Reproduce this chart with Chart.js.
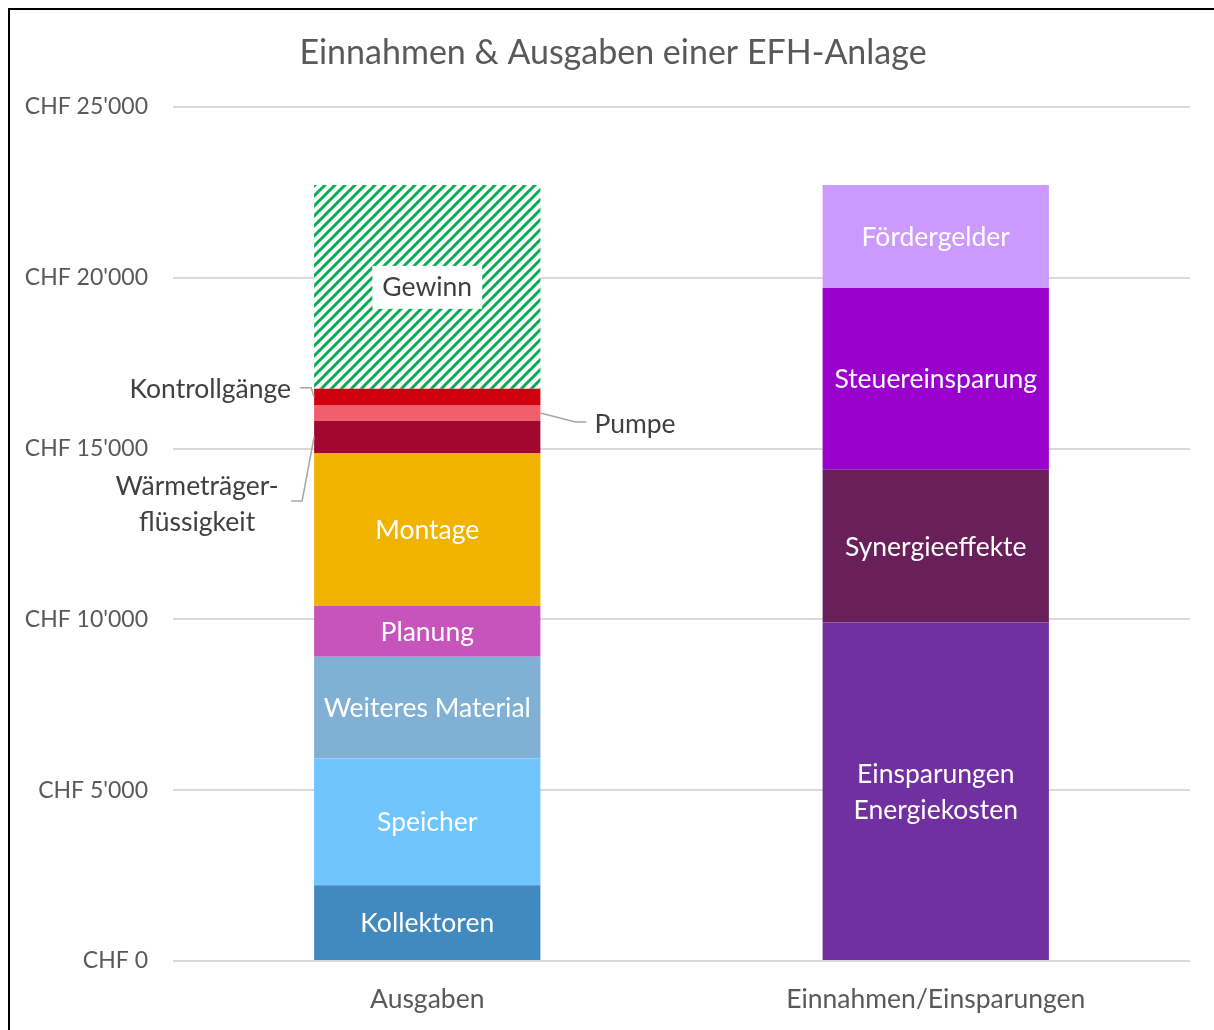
<!DOCTYPE html>
<html>
<head>
<meta charset="utf-8">
<script src="https://cdn.jsdelivr.net/npm/chart.js@4.4.1/dist/chart.umd.min.js"></script>
<style>
  html, body { margin: 0; padding: 0; background: #fff; }
  #wrap { width: 1214px; height: 1030px; }
</style>
</head>
<body>
<div id="wrap"><canvas id="chart"></canvas></div>
<script>
const categories = ['Ausgaben', 'Einnahmen/Einsparungen']

// Ausgaben, von unten nach oben
const ausgabenLabels = ['Kollektoren', 'Speicher', 'Weiteres Material', 'Planung', 'Montage',
  'Wärmeträgerflüssigkeit', 'Pumpe', 'Kontrollgänge', 'Gewinn']
const ausgabenValues = [2220, 3710, 2980, 1490, 4470, 940, 470, 470, 5970]
const ausgabenColors = ['#4189bf', '#70c5fe', '#80b1d5', '#c654bb', '#f0b400',
  '#a2082f', '#ef5f6c', '#d1000f', 'hatch']

// Einnahmen / Einsparungen, von unten nach oben
const einnahmenLabels = ['Einsparungen Energiekosten', 'Synergieeffekte', 'Steuereinsparung', 'Fördergelder']
const einnahmenValues = [9910, 4470, 5320, 3020]
const einnahmenColors = ['#7030a0', '#681f5a', '#9a00cc', '#cc99ff']

const yTicks = [0, 5000, 10000, 15000, 20000, 25000]

const FONT = 'Lato, "Open Sans", sans-serif'

function hatchPattern() {
  const c = document.createElement('canvas')
  c.width = 10
  c.height = 10
  const g = c.getContext('2d')
  g.fillStyle = '#fff'
  g.fillRect(0, 0, 10, 10)
  g.strokeStyle = '#00b050'
  g.lineWidth = 3
  g.beginPath()
  g.moveTo(-2, 12); g.lineTo(12, -2)
  g.moveTo(-7, 7); g.lineTo(7, -7)
  g.moveTo(3, 17); g.lineTo(17, 3)
  g.stroke()
  return g.createPattern(c, 'repeat')
}
const hatch = hatchPattern()

const datasets = []
ausgabenLabels.forEach((name, i) => {
  datasets.push({
    label: name,
    data: [ausgabenValues[i], null],
    backgroundColor: ausgabenColors[i] === 'hatch' ? hatch : ausgabenColors[i]
  })
})
einnahmenLabels.forEach((name, i) => {
  datasets.push({
    label: name,
    data: [null, einnahmenValues[i]],
    backgroundColor: einnahmenColors[i]
  })
})

// inside labels: dataset label -> text lines, colour, white box
const insideLabels = {
  'Kollektoren': [['Kollektoren'], '#fff'],
  'Speicher': [['Speicher'], '#fff'],
  'Weiteres Material': [['Weiteres Material'], '#fff'],
  'Planung': [['Planung'], '#fff'],
  'Montage': [['Montage'], '#fff'],
  'Gewinn': [['Gewinn'], '#404040', true],
  'Einsparungen Energiekosten': [['Einsparungen', 'Energiekosten'], '#fff'],
  'Synergieeffekte': [['Synergieeffekte'], '#fff'],
  'Steuereinsparung': [['Steuereinsparung'], '#fff'],
  'Fördergelder': [['Fördergelder'], '#fff']
}

const labelPlugin = {
  id: 'segmentLabels',
  afterDatasetsDraw(chart) {
    const ctx = chart.ctx
    ctx.save()
    ctx.font = '26.5px ' + FONT
    ctx.textAlign = 'center'
    ctx.textBaseline = 'middle'
    chart.data.datasets.forEach((ds, di) => {
      const meta = chart.getDatasetMeta(di)
      const idx = ds.data[0] !== null ? 0 : 1
      const el = meta.data[idx]
      const cy = (el.y + el.base) / 2
      const info = insideLabels[ds.label]
      if (info) {
        const [lines, color, boxed] = info
        if (boxed) {
          const w = ctx.measureText(lines[0]).width
          ctx.fillStyle = '#fff'
          ctx.fillRect(el.x - w / 2 - 10, cy - 21, w + 20, 43)
        }
        ctx.fillStyle = color
        lines.forEach((t, k) => {
          ctx.fillText(t, el.x, cy + 1 + (k - (lines.length - 1) / 2) * 36)
        })
        return
      }
      // leader-line labels
      const left = el.x - el.width / 2
      const right = el.x + el.width / 2
      ctx.strokeStyle = '#a6a6a6'
      ctx.lineWidth = 1.5
      ctx.fillStyle = '#404040'
      if (ds.label === 'Kontrollgänge') {
        ctx.beginPath()
        ctx.moveTo(left, cy)
        ctx.lineTo(left - 3, cy - 9)
        ctx.lineTo(left - 14, cy - 9)
        ctx.stroke()
        ctx.textAlign = 'right'
        ctx.fillText('Kontrollgänge', left - 23, cy - 7)
      } else if (ds.label === 'Pumpe') {
        ctx.beginPath()
        ctx.moveTo(right, cy)
        ctx.lineTo(right + 35, cy + 9)
        ctx.lineTo(right + 46, cy + 9)
        ctx.stroke()
        ctx.textAlign = 'left'
        ctx.fillText('Pumpe', right + 54, cy + 12)
      } else if (ds.label === 'Wärmeträgerflüssigkeit') {
        ctx.beginPath()
        ctx.moveTo(left, cy)
        ctx.lineTo(left - 12, cy + 64)
        ctx.lineTo(left - 23, cy + 64)
        ctx.stroke()
        ctx.textAlign = 'center'
        ctx.fillText('Wärmeträger-', left - 117, cy + 49)
        ctx.fillText('flüssigkeit', left - 117, cy + 85)
      }
      ctx.textAlign = 'center'
    })
    ctx.restore()
  }
}

const framePlugin = {
  id: 'frame',
  afterDraw(chart) {
    const ctx = chart.ctx
    ctx.save()
    ctx.fillStyle = '#595959'
    ctx.font = '34px ' + FONT
    ctx.textAlign = 'center'
    ctx.textBaseline = 'middle'
    ctx.fillText('Einnahmen & Ausgaben einer EFH-Anlage', 613, 53)
    ctx.strokeStyle = '#000'
    ctx.lineWidth = 2
    ctx.beginPath()
    ctx.moveTo(9, 1030)
    ctx.lineTo(9, 9)
    ctx.lineTo(1214, 9)
    ctx.stroke()
    ctx.restore()
  }
}

const fmt = v => "CHF " + String(v).replace(/\B(?=(\d{3})+(?!\d))/g, "'")

new Chart(document.getElementById('chart'), {
  type: 'bar',
  data: { labels: categories, datasets: datasets },
  options: {
    responsive: true,
    maintainAspectRatio: false,
    animation: false,
    devicePixelRatio: 1,
    layout: { padding: { top: 107, right: 24, left: 0, bottom: 0 } },
    datasets: { bar: { categoryPercentage: 1, barPercentage: 0.445 } },
    plugins: { legend: { display: false }, tooltip: { enabled: false }, title: { display: false } },
    scales: {
      x: {
        stacked: true,
        grid: { display: false },
        border: { display: false },
        ticks: { color: '#595959', font: { family: FONT, size: 26.5 }, padding: 15 },
        afterFit: s => { s.height = 69 }
      },
      y: {
        stacked: true,
        min: 0,
        max: 25000,
        afterBuildTicks: s => { s.ticks = yTicks.map(v => ({ value: v })) },
        grid: { color: '#d9d9d9', lineWidth: 2, drawTicks: false },
        border: { display: false },
        ticks: { color: '#595959', font: { family: FONT, size: 23 }, padding: 25, callback: v => fmt(v) },
        afterFit: s => { s.width = 173 }
      }
    }
  },
  plugins: [labelPlugin, framePlugin]
})
</script>
</body>
</html>
